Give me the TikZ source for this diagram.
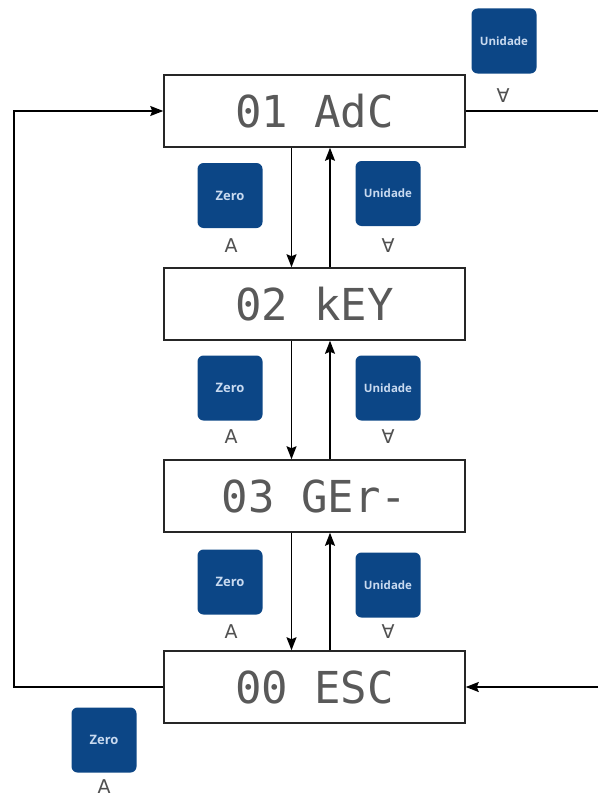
\documentclass[tikz,border=0pt]{standalone}
\usepackage{fontspec}
\setmainfont{DejaVu Sans}
\newfontfamily\segfont{DejaVu Sans Mono}
\newfontfamily\btnfont{Open Sans}
\usetikzlibrary{arrows.meta}
\definecolor{btnblue}{HTML}{0C4686}
\definecolor{btntext}{HTML}{C9DAF0}
\definecolor{symgray}{HTML}{505050}
\begin{document}
\begin{tikzpicture}[x=1pt,y=-1pt,
  display/.style={draw=black!85,line width=1.5pt,minimum width=301pt,minimum height=72pt,
    inner sep=0pt,font=\segfont\fontsize{44}{44}\selectfont,text=black!65},
  keybtn/.style={fill=btnblue,rounded corners=6pt,minimum width=65pt,minimum height=65pt,
    inner sep=0pt,text=btntext,font=\btnfont\bfseries\fontsize{13}{13}\selectfont},
  unibtn/.style={keybtn,font=\btnfont\bfseries\fontsize{11.5}{11.5}\selectfont},
  keysym/.style={text=symgray,inner sep=0pt,font=\fontsize{19}{19}\selectfont},
  arr/.style={line width=1.6pt,-{Stealth[length=13pt,width=10pt,inset=2pt]}},
  plain/.style={line width=1.6pt}]
\useasboundingbox (0,0) rectangle (598,800);

% menu displays
\node[display] (b1) at (314.5,111) {01 AdC};
\node[display] (b2) at (314.5,304) {02 kEY};
\node[display] (b3) at (314.5,496) {03 GEr-};
\node[display] (b4) at (314.5,687) {00 ESC};

% navigation arrows between displays
\foreach \a/\b in {b1/b2,b2/b3,b3/b4}{
  \draw[arr] ([xshift=-23pt]\a.south) -- ([xshift=-23pt]\b.north);
  \draw[arr] ([xshift=15.5pt]\b.north) -- ([xshift=15.5pt]\a.south);
}

% keys beside the arrows
\node[keybtn] (z1) at (230,195.5) {Zero};
\node[keysym] (z1s) at (231,246) {A};
\node[unibtn] (u1) at (388,193.5) {Unidade};
\node[keysym] (u1s) at (388,246) {∀};

\node[keybtn] (z2) at (230,388) {Zero};
\node[keysym] (z2s) at (231,437) {A};
\node[unibtn] (u2) at (388,388) {Unidade};
\node[keysym] (u2s) at (388,437) {∀};

\node[keybtn] (z3) at (230,582) {Zero};
\node[keysym] (z3s) at (231,632) {A};
\node[unibtn] (u3) at (388,585) {Unidade};
\node[keysym] (u3s) at (388,632) {∀};

% wrap-around keys
\node[unibtn] (u0) at (504,41) {Unidade};
\node[keysym] (u0s) at (503,96) {∀};
\node[keybtn] (z0) at (104,740) {Zero};
\node[keysym] (z0s) at (104,787) {A};

% wrap-around connectors
\coordinate (rtop) at (598,111);
\coordinate (rbot) at (598,687);
\draw[plain] (b1.east) -- (rtop);
\draw[arr] (rbot) -- (b4.east);
\draw[arr] (b4.west) -- ++(-149.5,0) |- (b1.west);
\end{tikzpicture}
\end{document}
